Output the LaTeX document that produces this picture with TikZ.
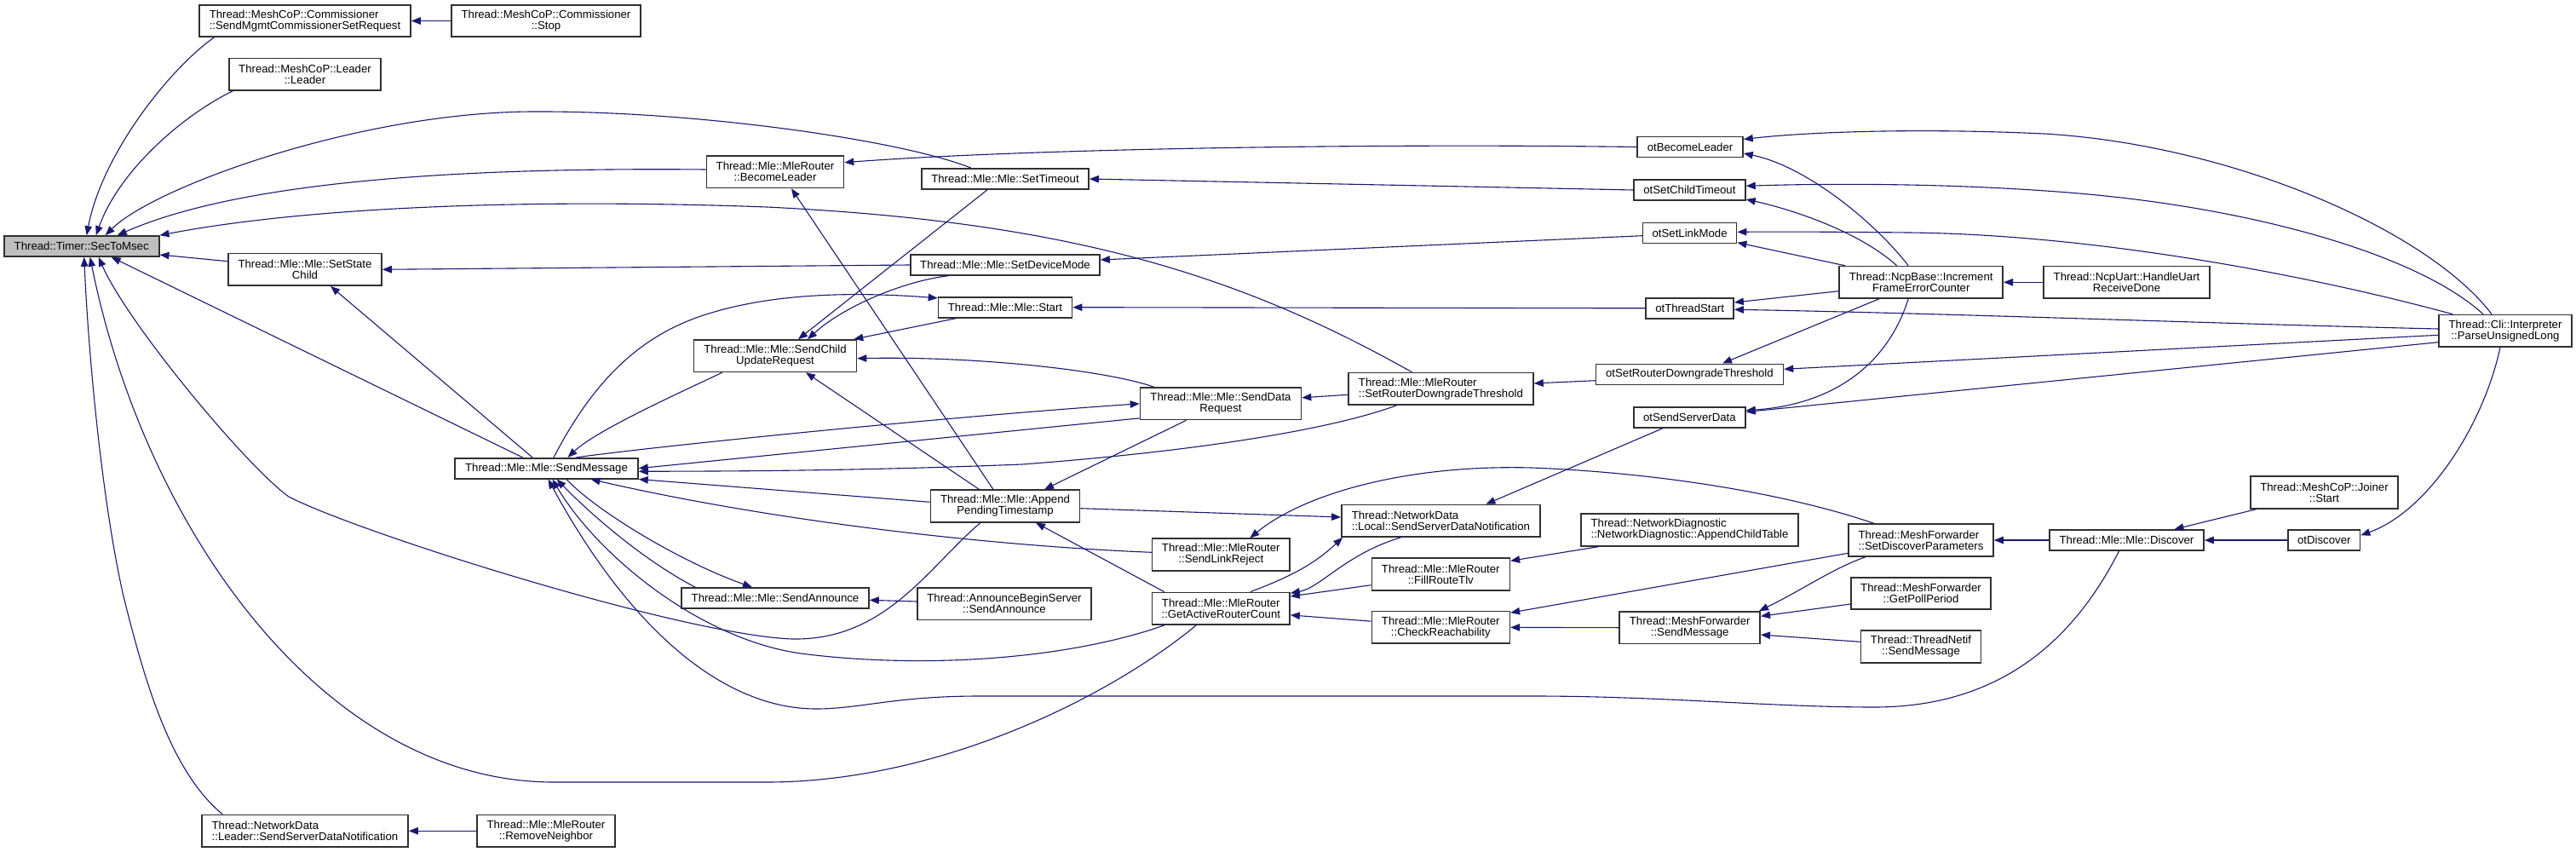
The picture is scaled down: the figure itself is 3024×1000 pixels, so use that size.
\documentclass[tikz,border=0pt]{standalone}
\usepackage{fontspec}
\setmainfont{Liberation Sans}
\usetikzlibrary{arrows.meta}
\definecolor{CallBlue}{HTML}{191970}
\definecolor{BoxEdge}{HTML}{303030}
\definecolor{RootGray}{HTML}{BFBFBF}

\begin{document}
\begin{tikzpicture}[x=1pt,y=-1pt,font=\fontsize{13.2}{13}\selectfont,
  fnbox/.style={draw=BoxEdge,line width=1.6pt,fill=white,align=center,
    inner sep=0pt,minimum height=24pt},
  fntwo/.style={fnbox,minimum height=37.5pt},
  rootfn/.style={fnbox,fill=RootGray},
  callarrow/.style={draw=CallBlue,line width=1.1pt,
    -{Triangle[length=11pt,width=8.5pt]}}]
\path[use as bounding box] (0,0) rectangle (3024,1000);
\fill[white] (0,0) rectangle (3024,1000);

\node[rootfn,minimum width=182pt] (sec) at (95.7,289) {Thread::Timer::SecToMsec};
\node[fntwo,minimum width=248pt,align=left] (sendMgmt) at (358,24.5)
      {Thread::MeshCoP::Commissioner\\::SendMgmtCommissionerSetRequest};
\node[fntwo,minimum width=222pt] (commStop) at (641,24.5)
      {Thread::MeshCoP::Commissioner\\::Stop};
\node[fntwo,minimum width=178pt] (leaderLeader) at (358,87.3)
      {Thread::MeshCoP::Leader\\::Leader};
\node[fntwo,minimum width=180pt] (setStateChild) at (358,316.3)
      {Thread::Mle::Mle::SetState\\Child};
\node[fnbox,minimum width=215pt] (mleSendMsg) at (641.5,549.7)
      {Thread::Mle::Mle::SendMessage};
\node[fntwo,minimum width=242pt,align=left] (ndLeaderSSDN) at (358,975.3)
      {Thread::NetworkData\\::Leader::SendServerDataNotification};
\node[fntwo,minimum width=162pt] (removeNeighbor) at (641,975.3)
      {Thread::Mle::MleRouter\\::RemoveNeighbor};
\node[fntwo,minimum width=161pt] (becomeLeader) at (910,201.7)
      {Thread::Mle::MleRouter\\::BecomeLeader};
\node[fntwo,minimum width=191pt] (scur) at (910,417.7)
      {Thread::Mle::Mle::SendChild\\UpdateRequest};
\node[fnbox,minimum width=220pt] (sendAnnounce) at (910,702)
      {Thread::Mle::Mle::SendAnnounce};
\node[fnbox,minimum width=196pt] (setTimeout) at (1180,210)
      {Thread::Mle::Mle::SetTimeout};
\node[fnbox,minimum width=222pt] (setDeviceMode) at (1180,311)
      {Thread::Mle::Mle::SetDeviceMode};
\node[fnbox,minimum width=157pt] (start) at (1180,360.7)
      {Thread::Mle::Mle::Start};
\node[fntwo,minimum width=175pt] (append) at (1180,594)
      {Thread::Mle::Mle::Append\\PendingTimestamp};
\node[fntwo,minimum width=204pt] (absSendAnnounce) at (1179,708.7)
      {Thread::AnnounceBeginServer\\::SendAnnounce};
\node[fntwo,minimum width=189pt] (sendDataReq) at (1433,473.8)
      {Thread::Mle::Mle::SendData\\Request};
\node[fntwo,minimum width=161.5pt] (sendLinkReject) at (1433.3,651)
      {Thread::Mle::MleRouter\\::SendLinkReject};
\node[fntwo,minimum width=161.5pt] (garc) at (1433.3,714.2)
      {Thread::Mle::MleRouter\\::GetActiveRouterCount};
\node[fntwo,minimum width=217pt,align=left] (srdt) at (1691.4,456.3)
      {Thread::Mle::MleRouter\\::SetRouterDowngradeThreshold};
\node[fntwo,minimum width=233pt,align=left] (local) at (1691.4,611.3)
      {Thread::NetworkData\\::Local::SendServerDataNotification};
\node[fntwo,minimum width=162pt] (fillRouteTlv) at (1691.3,674)
      {Thread::Mle::MleRouter\\::FillRouteTlv};
\node[fntwo,minimum width=162pt] (checkReach) at (1691.3,736.4)
      {Thread::Mle::MleRouter\\::CheckReachability};
\node[fnbox,minimum width=124pt] (otBecomeLeader) at (1984,172.5) {otBecomeLeader};
\node[fnbox,minimum width=131pt] (otSetChildTimeout) at (1983.4,223) {otSetChildTimeout};
\node[fnbox,minimum width=110pt] (otSetLinkMode) at (1983.6,273.7) {otSetLinkMode};
\node[fnbox,minimum width=103pt] (otThreadStart) at (1983.6,361.8) {otThreadStart};
\node[fnbox,minimum width=220pt] (otSRDT) at (1983.4,439.3)
      {otSetRouterDowngradeThreshold};
\node[fnbox,minimum width=131pt] (otSendServerData) at (1983.4,489.7) {otSendServerData};
\node[fntwo,minimum width=255pt,align=left] (appendChildTable) at (1983.5,622)
      {Thread::NetworkDiagnostic\\::NetworkDiagnostic::AppendChildTable};
\node[fntwo,minimum width=165pt] (mfSendMsg) at (1983.7,736.7)
      {Thread::MeshForwarder\\::SendMessage};
\node[fntwo,minimum width=192pt] (ncpBase) at (2255.2,331.3)
      {Thread::NcpBase::Increment\\FrameErrorCounter};
\node[fntwo,minimum width=170pt,align=left] (setDiscoverParams) at (2255,634)
      {Thread::MeshForwarder\\::SetDiscoverParameters};
\node[fntwo,minimum width=164pt] (getPollPeriod) at (2255,696.5)
      {Thread::MeshForwarder\\::GetPollPeriod};
\node[fntwo,minimum width=141pt] (threadNetifSendMsg) at (2255,759)
      {Thread::ThreadNetif\\::SendMessage};
\node[fntwo,minimum width=195pt] (handleUart) at (2496.5,331.3)
      {Thread::NcpUart::HandleUart\\ReceiveDone};
\node[fnbox,minimum width=181pt] (discover) at (2496.5,634)
      {Thread::Mle::Mle::Discover};
\node[fntwo,minimum width=173pt] (joinerStart) at (2728.5,578)
      {Thread::MeshCoP::Joiner\\::Start};
\node[fnbox,minimum width=84.5pt] (otDiscover) at (2728.3,634) {otDiscover};
\node[fntwo,minimum width=156pt] (parseUL) at (2941,388.3)
      {Thread::Cli::Interpreter\\::ParseUnsignedLong};

\foreach \src/\dst in {commStop/sendMgmt,removeNeighbor/ndLeaderSSDN,
    setDeviceMode/setStateChild,otSetChildTimeout/setTimeout,otThreadStart/start,
    mfSendMsg/checkReach,discover/setDiscoverParams,otDiscover/discover,
    handleUart/ncpBase}
  \draw[callarrow] (\src.west) -- (\dst.east);

\draw[callarrow] ([xshift=18pt]sendMgmt.south west)
      .. controls (200,80) and (120,180) .. ([xshift=6pt]sec.north);
\draw[callarrow] ([xshift=5pt]leaderLeader.south west)
      .. controls (215,135) and (140,200) .. ([xshift=17pt]sec.north);
\draw[callarrow] ([xshift=-40pt]setTimeout.north)
      .. controls (1060,165) and (820,130) .. (625,131)
      .. controls (420,132) and (180,220) .. ([xshift=28pt]sec.north);
\draw[callarrow] ([yshift=2.7pt]becomeLeader.west)
      .. controls (600,197) and (300,205) .. ([xshift=42pt]sec.north);
\draw[callarrow] ([xshift=-34pt]srdt.north)
      .. controls (1450,320) and (1250,260) .. (900,243)
      .. controls (600,232) and (350,245) .. (sec.north east);
\draw[callarrow] ([yshift=9.6pt]setStateChild.west) -- ([yshift=-10pt]sec.east);
\draw[callarrow] ([xshift=-28pt]mleSendMsg.north) -- ([xshift=35pt]sec.south);
\draw[callarrow] ([xshift=25pt]ndLeaderSSDN.north west)
      .. controls (200,905) and (170,800) .. (145,700)
      .. controls (120,590) and (104,420) .. ([xshift=3pt]sec.south);
\draw[callarrow] ([xshift=-29pt]garc.south)
      .. controls (1300,820) and (1100,918) .. (900,918) -- (650,918)
      .. controls (380,918) and (170,620) .. ([xshift=10pt]sec.south);
\draw[callarrow] ([xshift=-29pt]append.south)
      .. controls (1090,665) and (1040,752) .. (930,750)
      .. controls (800,745) and (420,625) .. (339,583)
      .. controls (290,548) and (150,380) .. ([xshift=20pt]sec.south);

\draw[callarrow] ([xshift=-16.5pt]mleSendMsg.north) -- ([xshift=30pt]setStateChild.south);
\draw[callarrow] (otBecomeLeader.west)
      .. controls (1600,168) and (1200,175) .. ([yshift=11pt]becomeLeader.east);
\draw[callarrow] ([xshift=-14pt]append.north) -- ([xshift=19pt]becomeLeader.south);
\draw[callarrow] ([xshift=-21pt]setTimeout.south) -- ([xshift=27pt]scur.north);
\draw[callarrow] ([yshift=-3pt]otSetLinkMode.west) -- ([yshift=6pt]setDeviceMode.east);
\draw[callarrow] ([xshift=-67pt]setDeviceMode.south)
      .. controls (1060,330) and (990,360) .. ([xshift=38pt]scur.north);
\draw[callarrow] ([xshift=-57pt]start.south) -- ([xshift=-4pt]scur.north east);
\draw[callarrow] ([xshift=8.5pt]mleSendMsg.north)
      .. controls (690,460) and (740,400) .. (820,372)
      .. controls (900,344) and (1000,342) .. ([yshift=-2pt]start.north west);
\draw[callarrow] ([xshift=17pt]sendDataReq.north west)
      .. controls (1300,435) and (1150,418) .. ([yshift=-3pt]scur.east);
\draw[callarrow] ([xshift=-30.5pt]append.north) -- ([xshift=36pt]scur.south);
\draw[callarrow] ([xshift=34pt]scur.south west)
      .. controls (800,460) and (700,505) .. ([xshift=25pt]mleSendMsg.north);

\draw[callarrow] ([xshift=35pt]mleSendMsg.north)
      .. controls (760,525) and (1100,490) .. (sendDataReq.west);
\draw[callarrow] ([yshift=2.5pt]sendDataReq.south west) -- (mleSendMsg.east);
\draw[callarrow] ([xshift=-52pt]srdt.south)
      .. controls (1560,505) and (1400,530) .. (1200,545)
      .. controls (1000,553) and (850,553) .. ([yshift=-3.6pt]mleSendMsg.east);
\draw[callarrow] ([yshift=4.7pt]append.west) -- (mleSendMsg.south east);
\draw[callarrow] ([yshift=2.7pt]sendLinkReject.west)
      .. controls (1150,640) and (900,610) .. ([xshift=52pt]mleSendMsg.south);
\draw[callarrow] ([xshift=23.5pt]mleSendMsg.south)
      .. controls (700,600) and (800,660) .. ([xshift=-27pt]sendAnnounce.north);
\draw[callarrow] ([xshift=17pt]sendAnnounce.north west)
      .. controls (760,660) and (700,610) .. ([xshift=12pt]mleSendMsg.south);
\draw[callarrow] ([xshift=15.5pt]garc.south west)
      .. controls (1250,775) and (1080,785) .. (940,767)
      .. controls (820,750) and (700,650) .. ([xshift=7pt]mleSendMsg.south);
\draw[callarrow] ([xshift=-9pt]discover.south)
      .. controls (2430,760) and (2340,830) .. (2200,830)
      .. controls (2080,830) and (1950,817) .. (1800,817) -- (1150,817)
      .. controls (1050,817) and (1010,832) .. (958,832)
      .. controls (850,832) and (740,740) .. ([xshift=2pt]mleSendMsg.south);

\draw[callarrow] ([yshift=2.7pt]absSendAnnounce.west) -- ([yshift=-2.3pt]sendAnnounce.east);
\draw[callarrow] ([xshift=-40.5pt]sendDataReq.south) -- ([xshift=46pt]append.north);
\draw[callarrow] ([xshift=15pt]garc.north west) -- ([xshift=36pt]append.south);
\draw[callarrow] ([yshift=-2.7pt]append.east) -- ([yshift=4.3pt]local.west);
\draw[callarrow] ([xshift=31pt]setDiscoverParams.north west)
      .. controls (2100,580) and (1950,555) .. (1798,549)
      .. controls (1650,545) and (1530,580) .. ([xshift=34pt]sendLinkReject.north);
\draw[callarrow] ([xshift=34.5pt]garc.north)
      .. controls (1520,675) and (1545,660) .. ([xshift=2pt]local.south west);
\draw[callarrow] ([xshift=-47pt]local.south)
      .. controls (1580,650) and (1550,690) .. ([yshift=-1.5pt]garc.north east);
\draw[callarrow] ([yshift=-12.7pt]fillRouteTlv.west) -- ([yshift=-5.3pt]garc.north east);
\draw[callarrow] ([yshift=7.2pt]checkReach.west) -- ([yshift=-7.7pt]garc.east);
\draw[callarrow] ([xshift=-31pt]otSendServerData.south) -- ([xshift=53pt]local.north);
\draw[callarrow] ([xshift=22pt]appendChildTable.south west) -- ([yshift=15.7pt]fillRouteTlv.east);
\draw[callarrow] ([yshift=-15.3pt]setDiscoverParams.west) -- ([yshift=-2.3pt]checkReach.north east);
\draw[callarrow] ([xshift=21pt]setDiscoverParams.south west)
      .. controls (2150,668) and (2120,690) .. ([xshift=-2pt]mfSendMsg.north east);
\draw[callarrow] ([yshift=-12.5pt]getPollPeriod.west) -- ([yshift=13.4pt]mfSendMsg.east);
\draw[callarrow] ([yshift=5.7pt]threadNetifSendMsg.west) -- ([yshift=-8.3pt]mfSendMsg.east);
\draw[callarrow] ([xshift=8pt]joinerStart.south west) -- ([xshift=56pt]discover.north);
\draw[callarrow] ([xshift=-6pt]parseUL.south)
      .. controls (2915,500) and (2850,600) .. ([yshift=5.7pt]otDiscover.east);
\draw[callarrow] ([yshift=-7pt]srdt.west) -- ([yshift=7pt]sendDataReq.east);
\draw[callarrow] ([yshift=-7.4pt]otSRDT.west) -- ([yshift=6.3pt]srdt.east);

\draw[callarrow] ([xshift=-16pt]parseUL.north)
      .. controls (2850,270) and (2620,170) .. (2400,157)
      .. controls (2250,150) and (2120,155) .. ([yshift=9pt]otBecomeLeader.east);
\draw[callarrow] ([xshift=-15pt]ncpBase.north)
      .. controls (2200,260) and (2120,195) .. ([yshift=-7.5pt]otBecomeLeader.east);
\draw[callarrow] ([xshift=-26pt]parseUL.north)
      .. controls (2840,300) and (2650,245) .. (2440,227)
      .. controls (2300,215) and (2150,215) .. ([yshift=4.7pt]otSetChildTimeout.east);
\draw[callarrow] ([xshift=-28.5pt]ncpBase.north)
      .. controls (2180,270) and (2100,245) .. ([yshift=-11pt]otSetChildTimeout.east);
\draw[callarrow] ([xshift=17pt]parseUL.north west)
      .. controls (2700,320) and (2450,275) .. (2240,273)
      .. controls (2150,272) and (2080,272) .. ([yshift=1.4pt]otSetLinkMode.east);
\draw[callarrow] ([xshift=7.4pt]ncpBase.north west) -- ([yshift=-11pt]otSetLinkMode.east);
\draw[callarrow] ([yshift=-10.4pt]ncpBase.west) -- ([yshift=6.8pt]otThreadStart.east);
\draw[callarrow] ([yshift=2.3pt]parseUL.west)
      .. controls (2600,380) and (2300,368) .. ([yshift=-1.5pt]otThreadStart.east);
\draw[callarrow] ([xshift=47.4pt]ncpBase.south west) -- ([xshift=38.6pt]otSRDT.north);
\draw[callarrow] ([yshift=-5pt]parseUL.west) -- ([yshift=6pt]otSRDT.east);
\draw[callarrow] ([xshift=-15pt]ncpBase.south)
      .. controls (2215,430) and (2150,475) .. ([yshift=8pt]otSendServerData.east);
\draw[callarrow] ([yshift=-13.4pt]parseUL.west) -- ([yshift=6.2pt]otSendServerData.east);
\end{tikzpicture}
\end{document}
